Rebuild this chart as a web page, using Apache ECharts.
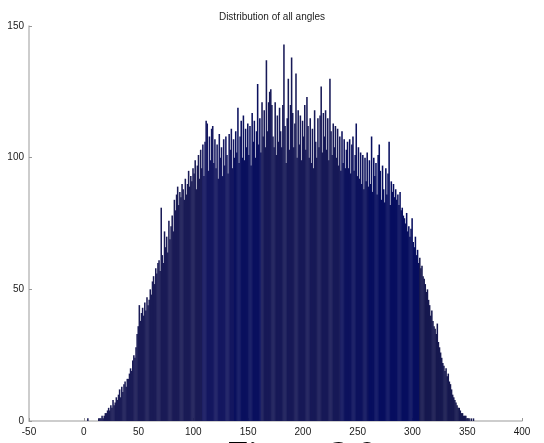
<!DOCTYPE html>
<html>
<head>
<meta charset="utf-8">
<script src="https://cdn.jsdelivr.net/npm/echarts@6/dist/echarts.min.js"></script>
<style>html,body{margin:0;padding:0;background:#fff}#c{width:544px;height:443px}</style>
</head>
<body>
<div id="c"></div>
<script>
// Histogram of angles: bin i covers [binStart + i, binStart + i + 1)
const title = 'Distribution of all angles';
const binStart = 0;
const binWidth = 1;
const counts = [
  0,0,0,1,0,0,0,0,0,0,
  0,0,0,1,1,1,2,1,2,3,
  3,4,5,4,6,5,8,6,7,9,
  8,10,12,9,13,11,14,15,13,16,
  16,18,20,19,23,25,24,28,33,36,
  44,38,41,43,40,45,42,47,44,46,
  50,48,53,55,52,58,56,60,61,57,
  81,63,60,72,66,70,64,76,69,74,
  78,72,84,80,86,89,82,87,85,90,
  88,84,92,86,90,95,89,93,91,96,
  94,99,88,97,101,92,103,96,105,93,
  106,114,113,95,108,99,111,112,98,107,
  96,105,92,109,100,104,93,107,97,108,
  101,94,109,103,111,96,107,100,110,102,
  119,98,108,114,100,116,99,111,104,113,
  101,112,97,117,106,114,100,110,128,105,
  115,102,121,108,118,104,137,110,121,125,
  126,120,108,104,121,101,116,106,119,110,
  104,120,143,112,98,115,130,103,120,138,
  117,104,113,132,100,118,105,116,99,114,
  108,120,103,123,112,100,115,98,111,96,
  118,106,100,115,104,116,127,102,117,108,
  118,103,115,99,130,110,101,113,104,112,
  100,111,97,108,95,110,98,107,96,103,
  106,96,107,94,105,108,95,101,113,93,
  104,92,102,90,101,88,100,91,102,89,
  99,90,108,87,100,93,98,86,101,105,
  95,84,97,88,83,96,86,94,106,82,
  91,87,90,85,88,84,86,82,87,80,
  81,78,77,75,79,72,74,70,73,77,
  68,66,70,63,65,60,62,58,59,55,
  54,52,49,50,46,44,40,42,38,36,
  35,33,37,30,28,26,24,22,21,19,
  20,17,18,15,14,12,10,9,8,7,
  6,5,5,4,3,3,2,2,2,1,
  1,1,0,1,0,1,0,0,0,0
];
const xTicks = [-50, 0, 50, 100, 150, 200, 250, 300, 350, 400];
const yTicks = [0, 50, 100, 150];

const data = counts.map((c, i) => [binStart + i * binWidth, c]);

const chart = echarts.init(document.getElementById('c'), null, {renderer: 'canvas'});
const axisCol = '#bdbdbd';
const labelCol = '#1a1a1a';
const fontFam = '"Liberation Sans", Arial, sans-serif';

chart.setOption({
  animation: false,
  backgroundColor: '#ffffff',
  title: {
    text: title,
    left: 'center',
    top: 7,
    textStyle: {fontFamily: fontFam, fontSize: 10, fontWeight: 'normal', color: '#222'}
  },
  grid: {left: 29, right: 22, top: 26, bottom: 22, containLabel: false},
  xAxis: {
    type: 'value',
    min: xTicks[0], max: xTicks[xTicks.length - 1], interval: 50,
    axisLine: {show: true, onZero: false, lineStyle: {color: axisCol, width: 1.5}},
    axisTick: {show: true, inside: true, length: 3, lineStyle: {color: '#999'}},
    axisLabel: {fontFamily: fontFam, fontSize: 10, color: labelCol, margin: 6},
    splitLine: {show: false}
  },
  yAxis: {
    type: 'value',
    min: yTicks[0], max: yTicks[yTicks.length - 1], interval: 50,
    axisLine: {show: true, onZero: false, lineStyle: {color: axisCol, width: 1.5}},
    axisTick: {show: true, inside: true, length: 3, lineStyle: {color: '#999'}},
    axisLabel: {fontFamily: fontFam, fontSize: 10, color: labelCol, margin: 5},
    splitLine: {show: false}
  },
  series: [{
    type: 'custom',
    data: data,
    clip: true,
    renderItem: function (params, api) {
      const x0 = api.value(0);
      const v = api.value(1);
      if (v <= 0) return null;
      const p0 = api.coord([x0, v]);
      const p1 = api.coord([x0 + binWidth, 0]);
      const frac = (x0 - 0) / 360;
      let col;
      if (frac < 0.3) col = '#1a1b56';
      else if (frac < 0.38) col = '#141760';
      else if (frac < 0.45) col = '#0a105e';
      else if (frac < 0.65) col = '#171957';
      else if (frac < 0.72) col = '#0d125d';
      else if (frac < 0.85) col = '#070e5f';
      else col = '#16184f';
      return {
        type: 'rect',
        shape: {x: p0[0], y: p0[1], width: p1[0] - p0[0] + 0.45, height: p1[1] - p0[1]},
        style: {fill: col}
      };
    }
  }],
  graphic: [{
    type: 'text',
    left: 228,
    top: 439,
    style: {text: 'Figure 2.8', font: '36px "Liberation Serif", "Times New Roman", serif', fill: '#000'}
  }]
});
</script>
</body>
</html>
